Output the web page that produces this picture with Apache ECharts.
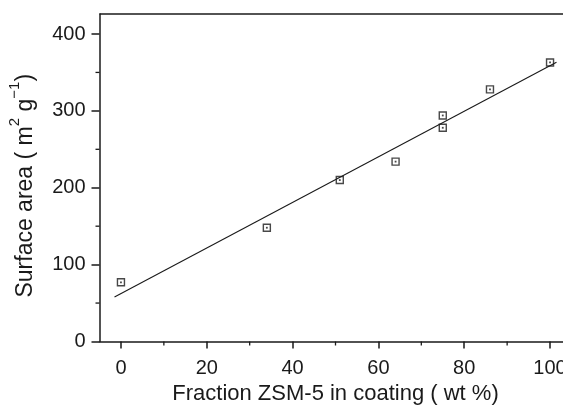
<!DOCTYPE html>
<html>
<head>
<meta charset="utf-8">
<script src="https://cdn.jsdelivr.net/npm/echarts@6/dist/echarts.min.js"></script>
<style>
  html, body { margin: 0; padding: 0; background: #fff; }
  #chart { width: 563px; height: 405px; }
</style>
</head>
<body>
<div id="chart"></div>
<script>
// measured points
const fraction = [0, 34, 51, 64, 75, 75, 86, 100];
const surfaceArea = [77, 148, 210, 234, 294, 278, 328, 363];
// fitted line end points
const fitX = [-1.5, 101.5];
const fitY = [57.8, 363.1];
const xTicks = [0, 20, 40, 60, 80, 100];
const yTicks = [0, 100, 200, 300, 400];

const points = fraction.map((x, i) => [x, surfaceArea[i]]);
const fitLine = fitX.map((x, i) => [x, fitY[i]]);

const font = 'Liberation Sans, Arial, sans-serif';
const ink = '#1a1a1a';

const chart = echarts.init(document.getElementById('chart'));
const option = {
    animation: false,
    // plot runs past the right edge of the picture, like the scan
    grid: { left: 99.5, width: 472, top: 14, height: 327.5, containLabel: false, outerBoundsMode: 'none' },
    xAxis: {
        type: 'value',
        min: -5,
        max: 105,
        interval: 5,
        name: 'Fraction ZSM-5 in coating ( wt %)',
        nameLocation: 'middle',
        nameGap: 38,
        nameTextStyle: { fontFamily: font, fontSize: 22, color: ink },
        axisLine: { onZero: false, lineStyle: { color: ink, width: 1.5 } },
        axisTick: { length: 7, lineStyle: { color: ink, width: 1.5 }, customValues: xTicks },
        axisLabel: { margin: 17, fontFamily: font, fontSize: 20, color: ink, customValues: xTicks },
        splitLine: { show: false }
    },
    yAxis: {
        type: 'value',
        min: 0,
        max: 426,
        interval: 100,
        name: '{a|Surface area ( m}{s|2}{a| g}{s|−1}{a|)}',
        nameLocation: 'middle',
        nameGap: 62,
        nameTextStyle: {
            fontFamily: font, color: ink,
            padding: [0, 16, 0, 0],
            rich: {
                a: { fontFamily: font, fontSize: 23, color: ink, verticalAlign: 'bottom', lineHeight: 30 },
                s: { fontFamily: font, fontSize: 15, color: ink, verticalAlign: 'top', lineHeight: 30 }
            }
        },
        axisLine: { onZero: false, lineStyle: { color: ink, width: 1.5 } },
        axisTick: { length: 8, lineStyle: { color: ink, width: 1.5 }, customValues: yTicks },
        axisLabel: { margin: 14, fontFamily: font, fontSize: 20, color: ink, customValues: yTicks },
        splitLine: { show: false }
    },
    series: [
        {
            type: 'line',
            data: fitLine,
            symbol: 'none',
            lineStyle: { color: ink, width: 1.1 },
            silent: true
        },
        {
            type: 'scatter',
            data: points,
            symbol: 'rect',
            symbolSize: 7,
            itemStyle: { color: '#fff', borderColor: ink, borderWidth: 1.4 },
            silent: true
        },
        {
            type: 'scatter',
            data: points,
            symbol: 'rect',
            symbolSize: 1.8,
            itemStyle: { color: ink },
            silent: true
        }
    ]
};
chart.setOption(option);

// minor ticks: short marks at x = 10, 30, ... and y = 50, 150, ...
const minorX = [10, 30, 50, 70, 90];
const minorY = [50, 150, 250, 350];
const g = [];
minorX.forEach(v => {
    const p = chart.convertToPixel({ gridIndex: 0 }, [v, 0]);
    g.push({ type: 'line', shape: { x1: p[0], y1: p[1], x2: p[0], y2: p[1] + 4 }, style: { stroke: ink, lineWidth: 1.3 } });
});
minorY.forEach(v => {
    const p = chart.convertToPixel({ gridIndex: 0 }, [-5, v]);
    g.push({ type: 'line', shape: { x1: p[0], y1: p[1], x2: p[0] - 4, y2: p[1] }, style: { stroke: ink, lineWidth: 1.3 } });
});
// top frame line
const tl = chart.convertToPixel({ gridIndex: 0 }, [-5, 426]);
g.push({ type: 'line', shape: { x1: tl[0], y1: tl[1], x2: 563, y2: tl[1] }, style: { stroke: ink, lineWidth: 1.5 } });
chart.setOption({ graphic: g });
</script>
</body>
</html>
